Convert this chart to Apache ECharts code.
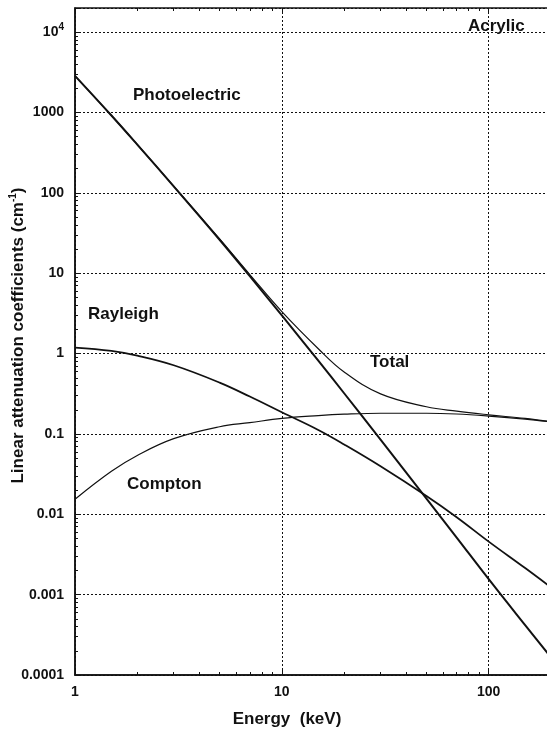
<!DOCTYPE html>
<html>
<head>
<meta charset="utf-8">
<script src="https://cdn.jsdelivr.net/npm/echarts@6/dist/echarts.min.js"></script>
<style>
html,body{margin:0;padding:0;background:#fff;}
#chart{width:547px;height:736px;}
</style>
</head>
<body>
<div id="chart"></div>
<script>
// Energies (keV)
const energies = [1, 1.5, 2, 3, 5, 7, 10, 15, 20, 30, 50, 70, 100, 150, 200];
// Linear attenuation coefficients (cm^-1)
const photoelectric = [2860, 918, 399, 120.7, 26.1, 9.19, 2.98, 0.816, 0.321, 0.0849, 0.0157, 0.00514, 0.00156, 0.000418, 0.000166];
const rayleigh = [1.19, 1.08, 0.943, 0.716, 0.436, 0.292, 0.186, 0.112, 0.074, 0.0396, 0.0169, 0.0092, 0.00457, 0.00214, 0.00123];
const compton = [0.0154, 0.0343, 0.054, 0.0873, 0.123, 0.138, 0.156, 0.169, 0.176, 0.181, 0.181, 0.177, 0.167, 0.153, 0.141];
const total = [2860, 919, 400, 121.5, 26.7, 9.62, 3.33, 1.15, 0.59, 0.315, 0.218, 0.192, 0.173, 0.156, 0.142];

// Tick labels
const xTickValues = [1, 10, 100];
const xTickLabels = ['1', '10', '100'];
const yTickValues = [0.0001, 0.001, 0.01, 0.1, 1, 10, 100, 1000, 10000];
const yTickLabels = ['0.0001', '0.001', '0.01', '0.1', '1', '10', '100', '1000', '{b|10}{s|4}'];

const seriesNames = ['Photoelectric', 'Rayleigh', 'Compton', 'Total'];

function pairs(arr) { return energies.map((e, i) => [e, arr[i]]); }
function labelFor(values, labels, v) {
  for (let i = 0; i < values.length; i++) {
    if (Math.abs(Math.log10(v) - Math.log10(values[i])) < 1e-6) return labels[i];
  }
  return '';
}
function minorTicks(lo, hi) {
  const out = [];
  for (let d = lo; d <= hi; d++) {
    const base = Math.pow(10, d);
    for (let k = 2; k <= 9; k++) out.push(+(base * k).toPrecision(6));
  }
  return out;
}

const FONT = 'Liberation Sans, Arial, Helvetica, sans-serif';
const INK = '#111';
const xMin = 1, xMax = 200, yMin = 0.0001, yMax = 20000;

const chart = echarts.init(document.getElementById('chart'), null, {renderer: 'canvas'});

const gridDef = {left: 75, top: 8, width: 476, height: 667, show: true, borderColor: INK, borderWidth: 1.5,
  backgroundColor: 'transparent', containLabel: false, outerBoundsMode: 'none'};

const commonHidden = {
  axisLine: {show: false}, axisLabel: {show: false}, splitLine: {show: false}
};

const option = {
  animation: false,
  backgroundColor: '#fff',
  grid: gridDef,
  xAxis: [
    {
      type: 'log', logBase: 10, min: xMin, max: xMax, splitNumber: 5,
      position: 'bottom',
      name: 'Energy  (keV)', nameLocation: 'middle', nameGap: 36,
      nameTextStyle: {fontFamily: FONT, fontSize: 17, fontWeight: 'bold', color: INK, padding: [0, 52, 0, 0]},
      axisLine: {show: true, lineStyle: {color: INK, width: 1.5}},
      axisTick: {show: true, inside: true, length: 6, lineStyle: {color: INK}},
      axisLabel: {
        fontFamily: FONT, fontSize: 14, fontWeight: 'bold', color: INK, margin: 10,
        formatter: v => labelFor(xTickValues, xTickLabels, v)
      },
      splitLine: {show: true, lineStyle: {color: INK, type: [2, 2], width: 1}}
    },
    Object.assign({
      type: 'log', logBase: 10, min: xMin, max: xMax, position: 'bottom', gridIndex: 0,
      axisTick: {show: true, inside: true, length: 3, lineStyle: {color: INK}, customValues: minorTicks(0, 2)}
    }, commonHidden),
    Object.assign({
      type: 'log', logBase: 10, min: xMin, max: xMax, position: 'top', gridIndex: 0,
      axisTick: {show: true, inside: true, length: 5, lineStyle: {color: INK}}
    }, commonHidden),
    Object.assign({
      type: 'log', logBase: 10, min: xMin, max: xMax, position: 'top', gridIndex: 0,
      axisTick: {show: true, inside: true, length: 3, lineStyle: {color: INK}, customValues: minorTicks(0, 2)}
    }, commonHidden)
  ],
  yAxis: [
    {
      type: 'log', logBase: 10, min: yMin, max: yMax, splitNumber: 10,
      position: 'left',
      name: 'Linear attenuation coefficients (cm{s|-1})',
      nameLocation: 'middle', nameGap: 47, nameMoveOverlap: false,
      nameTextStyle: {
        fontFamily: FONT, fontSize: 17, fontWeight: 'bold', color: INK, padding: [0, 0, 0, 12],
        rich: {s: {fontFamily: FONT, fontSize: 10, fontWeight: 'bold', color: INK, padding: [0, 0, 10, 0]}}
      },
      axisLine: {show: true, lineStyle: {color: INK, width: 1.5}},
      axisTick: {show: true, inside: true, length: 6, lineStyle: {color: INK}},
      axisLabel: {
        fontFamily: FONT, fontSize: 14, fontWeight: 'bold', color: INK, margin: 11,
        formatter: v => labelFor(yTickValues, yTickLabels, v),
        rich: {
          b: {fontFamily: FONT, fontSize: 14, fontWeight: 'bold', color: INK},
          s: {fontFamily: FONT, fontSize: 10, fontWeight: 'bold', color: INK, padding: [0, 0, 10, 0]}
        }
      },
      splitLine: {show: true, lineStyle: {color: INK, type: [2, 2], width: 1}}
    },
    Object.assign({
      type: 'log', logBase: 10, min: yMin, max: yMax, position: 'left', gridIndex: 0,
      axisTick: {show: true, inside: true, length: 3, lineStyle: {color: INK}, customValues: minorTicks(-4, 4)}
    }, commonHidden)
  ],
  series: [
    {name: seriesNames[3], type: 'line', data: pairs(total), showSymbol: false, smooth: 0.4,
     lineStyle: {color: INK, width: 1.2}, xAxisIndex: 0, yAxisIndex: 0, z: 2},
    {name: seriesNames[2], type: 'line', data: pairs(compton), showSymbol: false, smooth: 0.4,
     lineStyle: {color: INK, width: 1.2}, xAxisIndex: 0, yAxisIndex: 0, z: 2},
    {name: seriesNames[1], type: 'line', data: pairs(rayleigh), showSymbol: false, smooth: 0.4,
     lineStyle: {color: INK, width: 1.8}, xAxisIndex: 0, yAxisIndex: 0, z: 3},
    {name: seriesNames[0], type: 'line', data: pairs(photoelectric), showSymbol: false, smooth: 0.4,
     lineStyle: {color: INK, width: 2}, xAxisIndex: 0, yAxisIndex: 0, z: 3}
  ],
  graphic: [
    {type: 'text', x: 133, y: 95, style: {text: 'Photoelectric', font: 'bold 17px ' + FONT, fill: INK, align: 'left', verticalAlign: 'middle'}},
    {type: 'text', x: 88, y: 314, style: {text: 'Rayleigh', font: 'bold 17px ' + FONT, fill: INK, align: 'left', verticalAlign: 'middle'}},
    {type: 'text', x: 127, y: 484, style: {text: 'Compton', font: 'bold 17px ' + FONT, fill: INK, align: 'left', verticalAlign: 'middle'}},
    {type: 'text', x: 370, y: 362, style: {text: 'Total', font: 'bold 17px ' + FONT, fill: INK, align: 'left', verticalAlign: 'middle'}},
    {type: 'text', x: 468, y: 26, style: {text: 'Acrylic', font: 'bold 17px ' + FONT, fill: INK, align: 'left', verticalAlign: 'middle', backgroundColor: '#fff'}}
  ]
};

chart.setOption(option);
</script>
</body>
</html>
